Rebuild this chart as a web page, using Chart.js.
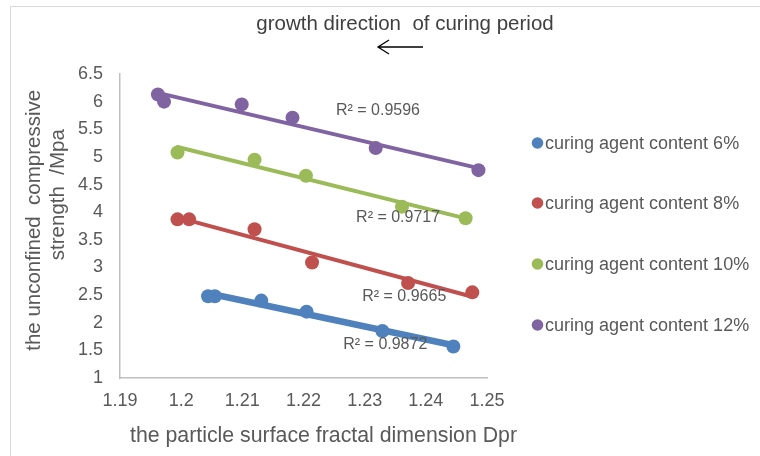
<!DOCTYPE html>
<html><head><meta charset="utf-8">
<script src="https://cdn.jsdelivr.net/npm/chart.js@4.4.1/dist/chart.umd.min.js"></script>
<style>html,body{margin:0;padding:0;background:#fff}#wrap{width:760px;height:456px;position:relative}</style>
</head><body><div id="wrap"><canvas id="c" width="760" height="456"></canvas></div>
<script>
const seriesNames = ["curing agent content 6%","curing agent content 8%","curing agent content 10%","curing agent content 12%"];
const dpr6  = [1.2044,1.2055,1.2131,1.2205,1.2329,1.2445];
const ucs6  = [2.48,2.48,2.40,2.20,1.85,1.57];
const dpr8  = [1.1994,1.2013,1.2120,1.2214,1.2371,1.2476];
const ucs8  = [3.87,3.87,3.69,3.09,2.72,2.55];
const dpr10 = [1.1994,1.2120,1.2204,1.2361,1.2465];
const ucs10 = [5.08,4.95,4.66,4.10,3.89];
const dpr12 = [1.1962,1.1972,1.2099,1.2182,1.2318,1.2486];
const ucs12 = [6.13,6.00,5.95,5.71,5.16,4.76];
const r2Labels = ["R² = 0.9872","R² = 0.9665","R² = 0.9717","R² = 0.9596"];
const xTicks = [1.19,1.2,1.21,1.22,1.23,1.24,1.25];
const yTicks = [1,1.5,2,2.5,3,3.5,4,4.5,5,5.5,6,6.5];
const xTitle = 'the particle surface fractal dimension Dpr';

const colors = ["#4F81BD","#C0504D","#9BBB59","#8064A2"];
const trendWidths = [6.5,4,4,4];
// R² label anchors (data units: left edge, vertical middle)
const r2Pos = [[1.2265,1.60],[1.2296,2.47],[1.2286,3.91],[1.2253,5.83]];

const xs=[dpr6,dpr8,dpr10,dpr12], ys=[ucs6,ucs8,ucs10,ucs12];
function fit(x,y){const n=x.length;let sx=0,sy=0,sxx=0,sxy=0;for(let i=0;i<n;i++){sx+=x[i];sy+=y[i];sxx+=x[i]*x[i];sxy+=x[i]*y[i];}
 const b=(n*sxy-sx*sy)/(n*sxx-sx*sx);const a=(sy-b*sx)/n;const lo=Math.min(...x),hi=Math.max(...x);return [{x:lo,y:a+b*lo},{x:hi,y:a+b*hi}];}
const datasets=[];
for(let s=0;s<4;s++){
  datasets.push({type:'line',label:'trend'+s,data:fit(xs[s],ys[s]),borderColor:colors[s],borderWidth:trendWidths[s],pointRadius:0,showLine:true,fill:false,order:1,borderCapStyle:'round'});
}
for(let s=0;s<4;s++){
  datasets.push({type:'scatter',label:seriesNames[s],data:xs[s].map((v,i)=>({x:v,y:ys[s][i]})),backgroundColor:colors[s],borderColor:colors[s],borderWidth:0,pointRadius:7,pointHoverRadius:7,order:0});
}
const F="'Liberation Sans', Arial, sans-serif";
const deco={id:'deco',afterDraw(ch){const c=ch.ctx;const xS=ch.scales.x,yS=ch.scales.y;c.save();
 // border
 c.strokeStyle='#d9d9d9';c.lineWidth=1;c.strokeRect(10.5,6.5,760,460);
 // top title
 c.fillStyle='#404040';c.font="20.5px "+F;c.textAlign='center';c.textBaseline='middle';
 c.fillText('growth direction  of curing period',405,24);
 // arrow
 c.strokeStyle='#000';c.lineWidth=1.3;c.beginPath();c.moveTo(423,47);c.lineTo(378,47);c.moveTo(389,40);c.lineTo(378,47);c.lineTo(389,54);c.stroke();
 // x axis title
 c.fillStyle='#595959';c.font='21.3px '+F;c.fillText(xTitle,323.5,436);
 // R2 labels
 c.font='16px '+F;c.textAlign='left';
 for(let s=0;s<4;s++){c.fillText(r2Labels[s],xS.getPixelForValue(r2Pos[s][0]),yS.getPixelForValue(r2Pos[s][1]));}
 // legend
 c.font='18px '+F;
 const ly=[143,203,264,325];
 for(let s=0;s<4;s++){c.fillStyle=colors[s];c.beginPath();c.arc(537.5,ly[s],5.8,0,Math.PI*2);c.fill();
  c.fillStyle='#595959';c.fillText(seriesNames[s],545,ly[s]+1);}
 c.restore();}};
new Chart(document.getElementById('c'),{
 data:{datasets},
 options:{responsive:false,animation:false,
  layout:{padding:{left:8,top:74,right:273,bottom:0}},
  plugins:{legend:{display:false},tooltip:{enabled:false}},
  scales:{
   x:{type:'linear',min:1.19,max:1.25,afterBuildTicks(a){a.ticks=xTicks.map(v=>({value:v}));},
      afterFit(a){a.height=78;},
      grid:{display:false,drawTicks:false},border:{color:'#bfbfbf',width:1.5},
      ticks:{color:'#595959',font:{size:18,family:F},padding:12,autoSkip:false,maxRotation:0,callback:v=>String(+v.toFixed(2))},
      title:{display:false}},
   y:{type:'linear',min:1,max:6.5,afterBuildTicks(a){a.ticks=yTicks.map(v=>({value:v}));},
      afterFit(a){a.width=112;},
      grid:{display:false,drawTicks:false},border:{color:'#bfbfbf',width:1.5},
      ticks:{color:'#595959',font:{size:18,family:F},padding:17,autoSkip:false,callback:v=>String(+v.toFixed(1))},
      title:{display:true,text:['  the unconfined  compressive','           strength  /Mpa'],color:'#595959',font:{size:20.5,family:F,lineHeight:1.17},padding:{top:14,bottom:0}}}
  }},
 plugins:[deco]});
</script></body></html>
